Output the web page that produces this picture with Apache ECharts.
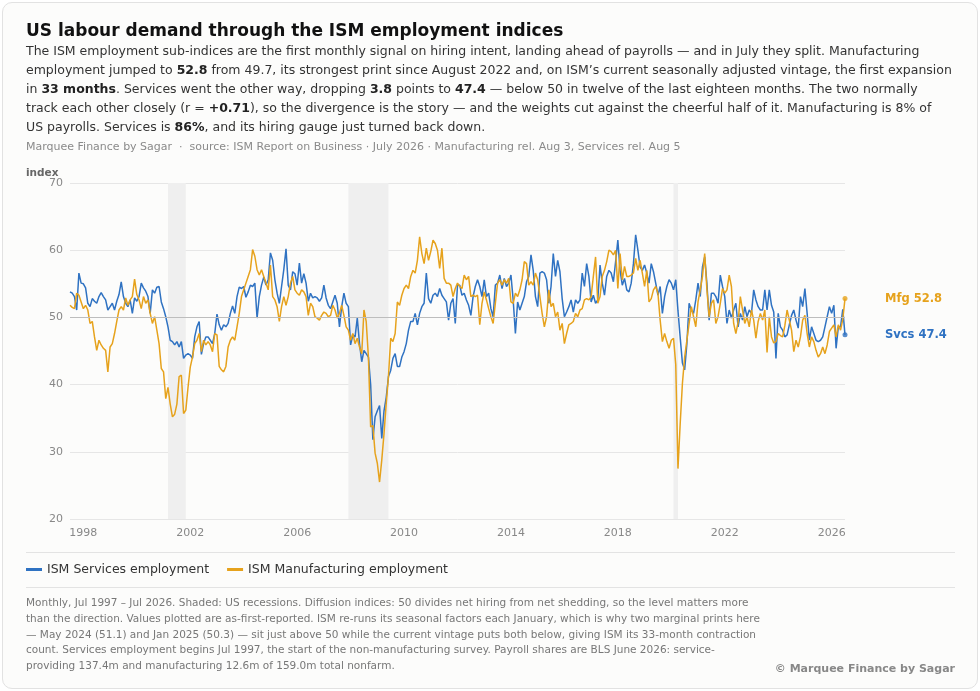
<!DOCTYPE html>
<html>
<head>
<meta charset="utf-8">
<script src="https://cdn.jsdelivr.net/npm/echarts@6/dist/echarts.min.js"></script>
<style>
html, body { margin:0; padding:0; background:#fff; }
body { width:980px; height:691px; position:relative; overflow:hidden; font-family:'DejaVu Sans', sans-serif; }
.card { position:absolute; left:2px; top:2px; width:974px; height:685px; border:1px solid #e2e2e2; border-radius:10px; background:#fcfcfb; }
#chart { position:absolute; left:0; top:0; width:980px; height:691px; }
.title { position:absolute; left:26px; top:20px; font-size:17px; line-height:20px; font-weight:bold; color:#111; white-space:nowrap; }
.lede { position:absolute; left:26px; top:41px; font-size:12.5px; line-height:19px; color:#333; white-space:nowrap; }
.lede b { color:#222; }
.source { position:absolute; left:26px; top:140px; font-size:11px; line-height:14px; color:#8a8a8a; white-space:nowrap; }
.rule { position:absolute; left:26px; width:929px; height:0; border-top:1px solid #e3e3e3; }
.notes { position:absolute; left:26px; top:595px; font-size:10.5px; line-height:15.8px; color:#777; white-space:nowrap; }
.credit { position:absolute; right:25px; top:662px; font-size:11px; line-height:14px; font-weight:bold; color:#888; white-space:nowrap; }
</style>
</head>
<body>
<div class="card"></div>
<div id="chart"></div>
<div class="title">US labour demand through the ISM employment indices</div>
<div class="lede">
The ISM employment sub-indices are the first monthly signal on hiring intent, landing ahead of payrolls — and in July they split. Manufacturing<br>
employment jumped to <b>52.8</b> from 49.7, its strongest print since August 2022 and, on ISM’s current seasonally adjusted vintage, the first expansion<br>
in <b>33 months</b>. Services went the other way, dropping <b>3.8</b> points to <b>47.4</b> — below 50 in twelve of the last eighteen months. The two normally<br>
track each other closely (r = <b>+0.71</b>), so the divergence is the story — and the weights cut against the cheerful half of it. Manufacturing is 8% of<br>
US payrolls. Services is <b>86%</b>, and its hiring gauge just turned back down.
</div>
<div class="source">Marquee Finance by Sagar &nbsp;·&nbsp; source: ISM Report on Business · July 2026 · Manufacturing rel. Aug 3, Services rel. Aug 5</div>
<div class="rule" style="top:552px"></div>
<div class="rule" style="top:587px"></div>
<div class="notes">
Monthly, Jul 1997 – Jul 2026. Shaded: US recessions. Diffusion indices: 50 divides net hiring from net shedding, so the level matters more<br>
than the direction. Values plotted are as-first-reported. ISM re-runs its seasonal factors each January, which is why two marginal prints here<br>
— May 2024 (51.1) and Jan 2025 (50.3) — sit just above 50 while the current vintage puts both below, giving ISM its 33-month contraction<br>
count. Services employment begins Jul 1997, the start of the non-manufacturing survey. Payroll shares are BLS June 2026: service-<br>
providing 137.4m and manufacturing 12.6m of 159.0m total nonfarm.
</div>
<div class="credit">© Marquee Finance by Sagar</div>

<script type="text/javascript">
    var BLUE = '#2f72c2', ORANGE = '#e6a21c';

    // first month of the sample and tick years
    var startYear = 1997, startMonth = 7;
    var yearTicks = [1998, 2002, 2006, 2010, 2014, 2018, 2022, 2026];

    // recessions (NBER), first and last month
    var recessions = [['2001-03', '2001-11'], ['2007-12', '2009-06'], ['2020-02', '2020-04']];

    // ISM Services employment, one row per calendar year (1997 from Jul, 2026 to Jul)
    var svcEmp = [
        53.8, 53.6, 53.1, 51.1, 56.6, 55.1,
        55.0, 54.4, 52.1, 51.6, 52.8, 52.4, 52.1, 53.1, 53.7, 53.1, 52.6, 51.1,
        51.6, 52.1, 51.1, 52.4, 53.4, 55.3, 53.1, 52.1, 51.6, 52.6, 50.6, 52.9,
        52.4, 53.1, 55.1, 54.4, 53.9, 53.1, 50.6, 54.1, 53.6, 54.5, 54.6, 52.3,
        51.3, 50.1, 48.6, 46.6, 46.4, 45.9, 46.4, 45.6, 46.4, 43.9, 44.4, 44.6,
        44.4, 43.9, 47.1, 48.6, 49.4, 44.5, 46.1, 47.1, 47.1, 46.6, 46.1, 47.6,
        50.5, 48.9, 48.1, 48.9, 48.6, 49.1, 50.6, 51.7, 50.6, 53.1, 54.5, 54.3,
        54.6, 53.0, 53.8, 54.8, 54.6, 55.1, 49.9, 53.1, 54.8, 56.0, 54.8, 55.6,
        59.6, 58.5, 55.6, 53.6, 52.1, 54.6, 57.1, 60.2, 54.8, 54.1, 56.8, 56.5,
        54.8, 58.1, 55.1, 56.5, 55.1, 52.4, 53.6, 52.9, 53.1, 52.9, 52.4, 52.9,
        54.8, 52.9, 51.8, 51.3, 52.3, 53.3, 52.1, 48.6, 51.6, 53.6, 52.1, 51.6,
        45.9, 47.4, 47.1, 49.9, 46.1, 43.4, 45.1, 44.6, 44.1, 40.0, 31.8, 35.2,
        36.1, 36.9, 32.0, 36.1, 38.1, 41.2, 42.1, 43.9, 44.6, 42.7, 42.7, 44.1,
        44.9, 46.1, 48.1, 49.4, 49.4, 50.6, 48.9, 50.6, 51.6, 52.1, 56.6, 52.8,
        52.1, 53.3, 53.6, 53.1, 54.3, 53.3, 52.8, 52.3, 49.6, 52.1, 52.8, 49.1,
        54.8, 54.8, 53.3, 53.6, 52.6, 51.8, 50.3, 53.1, 54.6, 55.6, 54.6, 53.1,
        55.6, 53.1, 53.6, 51.3, 50.1, 54.8, 55.1, 56.3, 54.3, 55.8, 54.6, 55.1,
        56.3, 52.6, 47.6, 52.3, 51.1, 52.1, 53.1, 55.3, 56.1, 59.3, 57.0, 53.1,
        51.6, 56.6, 56.8, 56.6, 55.6, 52.1, 54.6, 59.5, 56.1, 58.5, 56.8, 52.8,
        50.1, 50.8, 51.6, 52.6, 50.8, 52.6, 52.1, 52.6, 56.6, 54.6, 58.0, 56.1,
        52.3, 53.3, 52.1, 52.6, 57.8, 55.1, 53.3, 56.1, 57.0, 56.6, 55.3, 58.3,
        61.5, 57.0, 54.8, 55.8, 54.1, 53.8, 55.1, 58.0, 62.3, 60.0, 57.5, 57.0,
        57.8, 56.6, 55.1, 58.0, 56.8, 55.1, 53.3, 54.6, 50.6, 53.1, 54.6, 55.6,
        55.1, 54.1, 55.6, 51.0, 47.0, 43.2, 42.2, 46.1, 52.1, 51.1, 50.6, 52.6,
        55.1, 53.1, 57.5, 59.0, 55.0, 49.6, 53.6, 53.6, 53.1, 52.1, 56.3, 54.6,
        53.1, 49.1, 51.1, 49.9, 51.1, 52.1, 48.6, 50.6, 49.6, 51.6, 50.1, 51.1,
        50.6, 54.1, 52.6, 51.6, 51.1, 51.1, 54.1, 51.1, 54.1, 51.8, 50.8, 43.9,
        50.6, 48.6, 48.1, 47.1, 47.4, 48.9, 50.3, 51.1, 49.6, 48.4, 53.1, 51.6,
        54.3, 50.6, 46.6, 48.6, 47.6, 46.6, 46.4, 46.6, 47.1, 48.6, 50.1, 51.6,
        50.6, 51.8, 45.4, 48.6, 48.6, 51.2, 47.4
    ];

    // ISM Manufacturing employment, same months
    var mfgEmp = [
        51.8, 51.5, 51.3, 53.6, 53.3, 52.3,
        51.3, 51.8, 51.1, 49.1, 49.4, 47.1, 45.1, 46.6, 45.9, 45.4, 45.1, 41.9,
        45.6, 46.1, 47.6, 49.4, 51.1, 51.6, 51.1, 52.9, 51.8, 52.6, 53.1, 55.7,
        53.4, 52.6, 51.3, 53.1, 52.1, 52.6, 50.6, 49.1, 50.1, 48.1, 46.1, 42.4,
        41.9, 37.9, 39.6, 37.1, 35.2, 35.6, 37.1, 41.2, 41.4, 35.7, 36.2, 39.6,
        42.6, 44.1, 46.1, 46.6, 47.6, 44.9, 46.6, 45.9, 46.4, 45.9, 44.9, 47.6,
        47.4, 42.7, 42.2, 41.9, 42.7, 45.6, 46.6, 47.1, 46.6, 48.6, 50.6, 53.1,
        54.1, 55.1, 56.1, 57.1, 60.1, 59.1, 57.1, 56.3, 57.1, 56.1, 55.1, 54.1,
        57.8, 53.1, 52.6, 51.6, 49.4, 51.6, 53.1, 51.8, 53.1, 55.1, 56.1, 54.1,
        53.6, 53.3, 54.1, 53.8, 53.1, 50.3, 52.1, 51.6, 50.1, 49.9, 49.6, 50.3,
        50.8, 50.6, 50.1, 50.3, 51.8, 51.1, 49.9, 50.6, 51.8, 50.3, 48.6, 48.1,
        46.6, 47.6, 46.1, 46.9, 45.6, 44.6, 51.1, 49.4, 44.1, 33.7, 33.9, 29.8,
        28.3, 25.5, 28.8, 32.7, 37.2, 41.2, 46.9, 46.4, 47.6, 52.3, 51.8, 53.3,
        54.3, 54.8, 54.3, 56.1, 57.0, 56.6, 58.5, 62.0, 59.5, 58.0, 60.3, 58.5,
        59.8, 61.5, 61.0, 60.0, 57.3, 60.3, 55.8, 55.1, 55.1, 54.8, 53.1, 54.3,
        55.1, 54.6, 54.3, 56.3, 55.6, 56.1, 53.1, 53.3, 53.1, 53.3, 48.9, 52.1,
        53.8, 52.6, 51.3, 50.1, 49.1, 52.1, 55.1, 55.6, 54.8, 55.6, 55.1, 55.8,
        52.3, 52.1, 53.6, 53.1, 54.1, 55.6, 58.3, 58.0, 54.8, 55.3, 54.8, 56.6,
        55.6, 53.1, 50.6, 48.6, 50.1, 54.1, 51.6, 52.1, 50.1, 50.8, 48.1, 49.1,
        46.1, 47.6, 48.9, 49.1, 49.4, 50.6, 50.1, 51.1, 51.3, 52.6, 52.8, 52.6,
        53.1, 56.1, 59.0, 52.1, 53.1, 56.1, 57.0, 58.3, 60.0, 59.8, 59.3, 60.0,
        54.3, 59.5, 55.6, 57.6, 56.1, 56.1, 56.3, 56.6, 58.8, 57.0, 58.5, 56.6,
        54.6, 57.0, 52.3, 52.8, 54.1, 54.6, 53.6, 49.6, 46.4, 47.6, 46.4, 45.4,
        46.6, 46.9, 43.0, 27.5, 34.2, 40.2, 44.1, 46.6, 49.1, 51.6, 50.1, 48.6,
        52.3, 54.1, 56.1, 59.5, 54.1, 50.1, 52.1, 52.6, 49.1, 50.1, 52.1, 54.3,
        53.6, 54.1, 56.3, 54.6, 49.1, 47.6, 49.3, 53.1, 51.1, 49.1, 50.1, 48.6,
        51.1, 49.6, 46.9, 49.4, 50.6, 49.6, 51.1, 44.8, 50.1, 47.1, 46.2, 46.4,
        47.6, 47.3, 47.1, 48.8, 51.1, 49.6, 48.1, 44.9, 46.6, 45.6, 47.1, 49.6,
        50.3, 47.6, 45.6, 47.1, 46.4, 45.1, 44.1, 44.6, 45.6, 44.6, 45.9, 47.9,
        48.4, 48.9, 47.1, 48.9, 48.1, 49.7, 52.8
    ];

    // month categories "YYYY-MM"
    var months = [];
    for (var i = 0; i < svcEmp.length; i++) {
        var n = startMonth - 1 + i;
        var y = startYear + Math.floor(n / 12), mo = n % 12 + 1;
        months.push(y + '-' + (mo < 10 ? '0' + mo : mo));
    }
    var last = months.length - 1;

    var myChart = echarts.init(document.getElementById('chart'));

    var option = {
        animation: false,
        textStyle: {fontFamily: 'DejaVu Sans'},
        grid: {left: 70, right: 135, top: 183, bottom: 172},
        legend: {
            left: 26, top: 563, padding: 0,
            icon: 'rect', itemWidth: 16, itemHeight: 3, itemGap: 18,
            textStyle: {fontSize: 12.5, color: '#333'},
            data: ['ISM Services employment', 'ISM Manufacturing employment']
        },
        graphic: [{
            type: 'text', left: 26, top: 168,
            style: {text: 'index', font: 'bold 10.5px "DejaVu Sans"', fill: '#666'}
        }],
        xAxis: {
            type: 'category',
            data: months,
            boundaryGap: false,
            axisLine: {show: false},
            axisTick: {show: false},
            splitLine: {show: false},
            axisLabel: {
                interval: function(index, value) {
                    return value.slice(5) === '01' && yearTicks.indexOf(+value.slice(0, 4)) >= 0;
                },
                formatter: function(value) { return value.slice(0, 4); },
                color: '#888', fontSize: 11, margin: 9
            }
        },
        yAxis: {
            type: 'value', min: 20, max: 70, interval: 10,
            axisLine: {show: false},
            axisTick: {show: false},
            axisLabel: {color: '#888', fontSize: 11, margin: 7},
            splitLine: {lineStyle: {color: '#e6e6e6', width: 1}}
        },
        series: [
            {
                // recession bands and the 50 line, under everything
                name: 'bands', type: 'line', data: [], z: 1, silent: true,
                markArea: {
                    silent: true,
                    itemStyle: {color: '#efefef'},
                    data: recessions.map(function(r) { return [{xAxis: r[0]}, {xAxis: r[1]}]; })
                },
                markLine: {
                    silent: true, symbol: 'none', label: {show: false},
                    lineStyle: {color: '#bdbdbd', width: 1, type: 'solid'},
                    data: [{yAxis: 50}]
                }
            },
            {
                name: 'ISM Services employment', type: 'line', data: svcEmp, z: 3,
                showSymbol: false,
                lineStyle: {width: 1.5, color: BLUE},
                itemStyle: {color: BLUE},
                endLabel: {
                    show: true, distance: 40,
                    formatter: function(p) { return 'Svcs ' + p.value; },
                    color: BLUE, fontWeight: 'bold', fontSize: 11.5
                }
            },
            {
                name: 'ISM Manufacturing employment', type: 'line', data: mfgEmp, z: 4,
                showSymbol: false,
                lineStyle: {width: 1.5, color: ORANGE},
                itemStyle: {color: ORANGE},
                endLabel: {
                    show: true, distance: 40,
                    formatter: function(p) { return 'Mfg ' + p.value; },
                    color: ORANGE, fontWeight: 'bold', fontSize: 11.5
                }
            },
            {
                type: 'scatter', z: 5, symbolSize: 5, silent: true,
                data: [{value: [months[last], svcEmp[last]], itemStyle: {color: BLUE}},
                       {value: [months[last], mfgEmp[last]], itemStyle: {color: ORANGE}}]
            }
        ]
    };
    myChart.setOption(option);
</script>
</body>
</html>
